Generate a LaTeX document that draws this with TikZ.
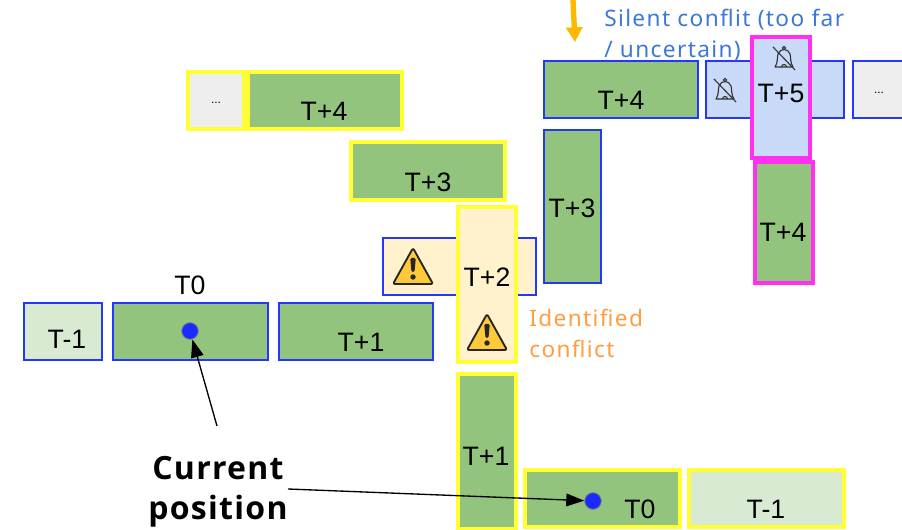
\documentclass[tikz,border=0pt]{standalone}
\usepackage{fontspec}
\setmainfont{Liberation Sans}
\newfontfamily\lblfont[LetterSpace=6]{Noto Sans}
\newfontfamily\boldlbl[LetterSpace=4,BoldFont={Open Sans Bold}]{Open Sans}
\usetikzlibrary{arrows.meta}
\definecolor{gr}{HTML}{93C47D}
\definecolor{lgr}{HTML}{D9EAD3}
\definecolor{cream}{HTML}{FFF2CC}
\definecolor{lblue}{HTML}{C9DAF8}
\definecolor{grey}{HTML}{EEEEEE}
\definecolor{bb}{HTML}{2438FA}
\definecolor{dotblue}{HTML}{1A2BFF}
\definecolor{yy}{HTML}{FFFF33}
\definecolor{mg}{HTML}{FF30F0}
\definecolor{warn}{HTML}{FFCA3A}
\definecolor{silent}{HTML}{3C78D8}
\definecolor{ident}{HTML}{FF9E40}
\definecolor{amber}{HTML}{FFB800}
\tikzset{
  x=0.75pt,y=-0.75pt,
  blue box/.style={draw=bb,line width=1.7pt},
  yellow box/.style={draw=yy,line width=2.4pt},
  pink box/.style={draw=mg,line width=2.4pt},
  lbl/.style={font=\fontsize{20}{20}\selectfont,inner sep=0pt,text=black},
  small/.style={font=\fontsize{9}{9}\selectfont,inner sep=0pt,text=black},
  lead/.style={draw=black,line width=1pt,-{Triangle[length=13.5pt,width=9.5pt]}},
  posdot/.style={circle,fill=dotblue,draw=black!50,line width=0.6pt,minimum size=12.5pt,inner sep=0pt},
  bellline/.style={black!80,line width=0.85pt},
}
\newcommand{\cell}[6]{% name, x0,y0,x1,y1, style
  \path[#6] (#2,#3) rectangle (#4,#5);
  \coordinate (#1) at ({(#2+#4)/2},{(#3+#5)/2});
}
\newcommand{\warnsign}[2]{%
  \begin{scope}[shift={(#1,#2)}]
    \draw[fill=warn,draw=black!85,line width=1.4pt,line join=round,rounded corners=1.5pt] (0,-19)--(20,17)--(-20,17)--cycle;
    \fill[black!85,rounded corners=1pt] (-2.8,-9)--(2.8,-9)--(1.5,5)--(-1.5,5)--cycle;
    \fill[black!85] (0,10) circle (2.7);
  \end{scope}}
\newcommand{\bell}[2]{%
  \begin{scope}[shift={(#1,#2)}]
    \draw[bellline,line join=round] (-9,9) .. controls (-6,5) and (-7,-1) .. (-6,-4) .. controls (-4,-10) and (4,-10) .. (6,-4) .. controls (7,-1) and (6,5) .. (9,9) -- cycle;
    \draw[bellline] (0,-10) circle (1.6);
    \draw[bellline] (-2.5,9) arc[start angle=180,end angle=360,radius=2.5];
    \draw[bellline] (-11,-11) -- (11,12);
  \end{scope}}
\begin{document}
\begin{tikzpicture}
\useasboundingbox (0,0) rectangle (902,530);
% top-left staircase
\cell{dotsa}{188}{72}{244}{129}{fill=grey,yellow box}
\node[small] (dotsaL) at (216,103) {...};
\cell{tp4a}{248}{72}{402}{129}{fill=gr,yellow box}
\node[lbl] (tp4aL) at (324,111) {T+4};
\cell{tp3a}{351}{142}{505}{200}{fill=gr,yellow box}
\node[lbl] (tp3aL) at (428,182) {T+3};
\cell{tp2h}{383}{238}{536}{295}{fill=cream,blue box}
\cell{tp2v}{458}{207}{516}{362}{fill=cream,yellow box}
\node[lbl] (tp2L) at (487,277) {T+2};
\warnsign{413}{267}
\warnsign{487}{333}
\node[anchor=west,inner sep=0pt,text=ident,font=\lblfont\fontsize{17}{17}\selectfont] (identA) at (529,318) {Identified};
\node[anchor=west,inner sep=0pt,text=ident,font=\lblfont\fontsize{17}{17}\selectfont] (identB) at (529,349) {conflict};
% right column
\cell{tp3b}{544}{130}{601}{283}{fill=gr,blue box}
\node[lbl] (tp3bL) at (572,208) {T+3};
\cell{tp4b}{544}{61}{698}{118}{fill=gr,blue box}
\node[lbl] (tp4bL) at (621,100) {T+4};
\cell{tp5h}{706}{61}{844}{118}{fill=lblue,blue box}
\bell{725}{90}
\node[anchor=west,inner sep=0pt,text=silent,font=\lblfont\fontsize{17}{17}\selectfont] (silA) at (604,20) {Silent conflit (too far};
\node[anchor=west,inner sep=0pt,text=silent,font=\lblfont\fontsize{17}{17}\selectfont] (silB) at (604,51) {/ uncertain)};
\cell{tp5v}{752}{37}{810}{158}{fill=lblue,pink box}
\bell{784}{58}
\node[lbl] (tp5L) at (781,93) {T+5};
\cell{tp4c}{755}{162}{813}{283}{fill=gr,pink box}
\node[lbl] (tp4cL) at (783,232) {T+4};
\cell{dotsb}{853}{61}{906}{118}{fill=grey,blue box}
\node[small] (dotsbL) at (879,93) {...};
% left row
\cell{tm1a}{24}{303}{102}{360}{fill=lgr,blue box}
\node[lbl] (tm1aL) at (67,339) {T-1};
\cell{t0a}{113}{303}{268}{360}{fill=gr,blue box}
\node[lbl] (t0aT) at (190,285) {T0};
\node[posdot] (dotA) at (190,331) {};
\cell{tp1a}{279}{303}{433}{360}{fill=gr,blue box}
\node[lbl] (tp1aL) at (361,342) {T+1};
% bottom
\cell{tp1b}{458}{374}{516}{529}{fill=gr,yellow box}
\node[lbl] (tp1bL) at (486,456) {T+1};
\cell{t0b}{525}{470}{680}{527}{fill=gr,yellow box}
\node[lbl] (t0bL) at (640,509) {T0};
\node[posdot] (dotB) at (593,501) {};
\cell{tm1b}{689}{470}{844}{527}{fill=lgr,yellow box}
\node[lbl] (tm1bL) at (766,509) {T-1};
% labels
\node[inner sep=0pt,font=\boldlbl\bfseries\fontsize{24}{24}\selectfont] (curA) at (218,468) {Current};
\node[inner sep=0pt,font=\boldlbl\bfseries\fontsize{24}{24}\selectfont] (curB) at (218,511) {position};
% connectors
\coordinate (leadA) at (217,426);
\coordinate (leadB) at (288,489);
\draw[lead] (leadA) -- (dotA);
\draw[lead] (leadB) -- (dotB);
\coordinate (amberA) at (573,0);
\coordinate (amberB) at (575,42);
\draw[amber,line width=4pt,-{Triangle[length=11pt,width=12pt]}] (amberA) -- (amberB);
\end{tikzpicture}
\end{document}
